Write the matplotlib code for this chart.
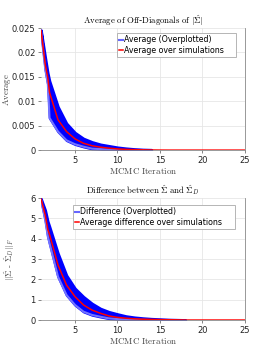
import matplotlib
matplotlib.use("Agg")
import matplotlib.pyplot as plt

plt.rcParams['mathtext.fontset'] = 'cm'

iters = [1, 1.5, 1.8, 2] + list(range(3, 26))

# top panel: average of off-diagonals
avg_mean = [0.0245, 0.0175, 0.0148, 0.0118,
            0.0062, 0.0038, 0.0023, 0.0014, 0.0009, 0.0006, 0.0004, 0.00025,
            0.00015, 0.0001, 0.00006, 0.00003, 0.00001] + [0] * 10
avg_upper = [0.0246, 0.0190, 0.0158, 0.0142,
             0.0089, 0.0055, 0.0036, 0.0024, 0.0017, 0.0012, 0.0009, 0.0006,
             0.0004, 0.00025, 0.00015, 0.0001] + [0] * 11
avg_lower = [0.0243, 0.0165, 0.0135, 0.0066,
             0.0038, 0.0020, 0.0012, 0.0007, 0.0003, 0.0002, 0.0001, 0] + [0] * 15

# bottom panel: frobenius difference
diff_mean = [5.95, 5.15, 4.45, 4.2,
             2.7, 1.72, 1.15, 0.74, 0.49, 0.33, 0.2, 0.13,
             0.09, 0.06, 0.04, 0.03, 0.02, 0.015, 0.01] + [0] * 8
diff_upper = [5.97, 5.4, 4.85, 4.6,
              3.28, 2.2, 1.56, 1.15, 0.82, 0.57, 0.41, 0.3,
              0.2, 0.14, 0.1, 0.07, 0.05, 0.03, 0.02, 0.01] + [0] * 7
diff_lower = [5.9, 4.9, 4.1, 3.77,
              2.13, 1.23, 0.74, 0.41, 0.25, 0.16, 0.08, 0.05,
              0.03, 0.02, 0.01] + [0] * 12

fig = plt.figure(figsize=(2.7, 3.6), dpi=100)
ax1 = fig.add_axes([0.152, 0.583, 0.755, 0.339])
ax2 = fig.add_axes([0.152, 0.111, 0.755, 0.339])


def draw_panel(ax, mean, upper, lower, ymax, yticks, yticklabels, title, ylabel,
               lab1, lab2, tail_end, leg_anchor, ylab_x):
    ax.fill_between(iters, lower, upper, where=[u > 0 for u in upper], interpolate=False,
                    color='blue', lw=1.8, edgecolor='blue')
    tx = [x for x in iters if x <= tail_end]
    ax.plot(tx, lower[:len(tx)], color=(0.45, 0.45, 1.0), lw=1.5)
    ax.plot([], [], color=(0.4, 0.4, 1.0), lw=1.5, label=lab1 + '    ')
    ax.plot(iters, mean, color='red', lw=1.1, label=lab2 + '    ')
    ax.set_xlim(1, 25)
    ax.set_ylim(0, ymax)
    ax.set_xticks([5, 10, 15, 20, 25])
    ax.set_yticks(yticks)
    ax.set_yticklabels(yticklabels)
    ax.tick_params(labelsize=6, length=2, width=0.5, color='#555555', labelcolor='#222222', pad=2)
    ax.grid(True, color='#e6e6e6', lw=0.6)
    ax.set_axisbelow(True)
    for s in ['top', 'left']:
        ax.spines[s].set_visible(False)
    for s in ['right', 'bottom']:
        ax.spines[s].set_color('#888888')
        ax.spines[s].set_linewidth(0.6)
    ax.set_title(title, fontsize=6.3, pad=3)
    ax.set_xlabel(r'$\mathrm{MCMC\ Iteration}$', fontsize=6.5, labelpad=1, color='#444444')
    ax.set_ylabel(ylabel, fontsize=6.3, color='#444444')
    ax.yaxis.set_label_coords(ylab_x, 0.5)
    leg = ax.legend(loc='upper left', bbox_to_anchor=leg_anchor, fontsize=5.7,
                    handlelength=0.5, handletextpad=0.1,
                    borderpad=0.3, labelspacing=0.2, fancybox=False, framealpha=1,
                    borderaxespad=0.0)
    leg.get_frame().set_edgecolor('#aaaaaa')
    leg.get_frame().set_linewidth(0.6)


draw_panel(ax1, avg_mean, avg_upper, avg_lower, 0.025,
           [0, 0.005, 0.01, 0.015, 0.02, 0.025], ['0', '0.005', '0.01', '0.015', '0.02', '0.025'],
           r'$\mathrm{Average\ of\ Off}$-$\mathrm{Diagonals\ of\ }|\hat{\Sigma}|$',
           r'$\mathrm{Average}$', 'Average (Overplotted)', 'Average over simulations',
           13, (0.373, 0.959), -0.14)

draw_panel(ax2, diff_mean, diff_upper, diff_lower, 6,
           [0, 1, 2, 3, 4, 5, 6], ['0', '1', '2', '3', '4', '5', '6'],
           r'$\mathrm{Difference\ between\ }\hat{\Sigma}\mathrm{\ and\ }\hat{\Sigma}_D$',
           r'$||\hat{\Sigma}\ \text{-}\ \hat{\Sigma}_D||_F$', 'Difference (Overplotted)',
           'Average difference over simulations', 14.5, (0.157, 0.943), -0.12)

fig.savefig('out.png', dpi=100)
